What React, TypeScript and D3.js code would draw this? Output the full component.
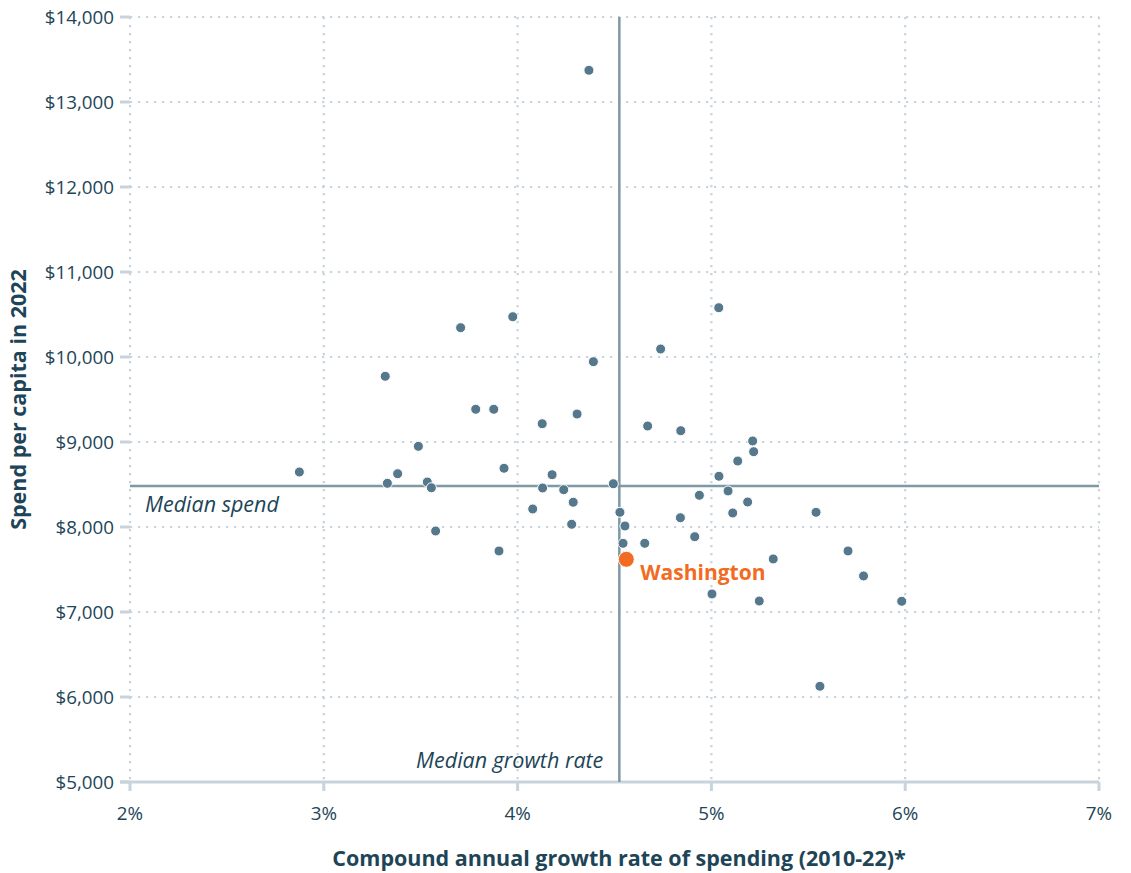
import React from 'react';
import * as d3 from 'd3';

const growthRates = [2.874, 3.317, 3.328, 3.381, 3.488, 3.534, 3.555, 3.577, 3.706, 3.784, 3.877, 3.904, 3.93, 3.975, 4.078, 4.127, 4.129, 4.178, 4.238, 4.287, 4.279, 4.307, 4.391, 4.494, 4.368, 5.038, 4.738, 4.671, 4.842, 5.213, 5.218, 5.136, 5.039, 5.086, 4.938, 5.187, 5.11, 4.528, 5.54, 4.84, 4.554, 4.914, 4.544, 4.656, 5.319, 5.705, 5.785, 5.003, 5.247, 5.982, 5.56];
const spendPerCapita = [8647, 9773, 8514, 8627, 8949, 8529, 8462, 7953, 10345, 9385, 9385, 7718, 8691, 10474, 8212, 9215, 8459, 8615, 8439, 8291, 8032, 9329, 9945, 8509, 13373, 10580, 10094, 9188, 9133, 9012, 8886, 8776, 8597, 8424, 8373, 8294, 8165, 8173, 8173, 8109, 8012, 7886, 7808, 7808, 7624, 7718, 7424, 7212, 7129, 7126, 6126];
const highlightName = 'Washington';
const highlightGrowth = 4.561;
const highlightSpend = 7620;
const medianGrowth = 4.525;
const medianSpend = 8482;
const xTicks = [2, 3, 4, 5, 6, 7];
const yTicks = [5000, 6000, 7000, 8000, 9000, 10000, 11000, 12000, 13000, 14000];

const FONT = "'Open Sans', Lato, sans-serif";
const TEXT = '#1d4557';
const GRID = '#c8d3db';
const MEDIAN = '#7e98a4';
const DOT = '#56788c';
const ORANGE = '#f26b22';

export default function App() {
  const W = 1131, H = 873;
  const left = 130, right = 1099, top = 17, bottom = 782;
  const x = d3.scaleLinear().domain([2, 7]).range([left, right]);
  const y = d3.scaleLinear().domain([5000, 14000]).range([bottom, top]);
  const fmt = d3.format('$,');
  const pts = growthRates.map((g, i) => ({ g, s: spendPerCapita[i] }));

  return (
    <svg width={W} height={H} style={{ position: 'absolute', left: 0, top: 0, background: '#fff' }} fontFamily={FONT}>
      {yTicks.slice(1).map(t => (
        <line key={'gy' + t} x1={left} x2={right} y1={y(t)} y2={y(t)} stroke={GRID} strokeWidth={2.2} strokeDasharray="2.2 5.8" />
      ))}
      {xTicks.map(t => (
        <line key={'gx' + t} x1={x(t)} x2={x(t)} y1={top} y2={bottom} stroke={GRID} strokeWidth={2.2} strokeDasharray="2.2 5.8" />
      ))}
      <line x1={left - 10} x2={right} y1={bottom} y2={bottom} stroke={GRID} strokeWidth={3} />
      {yTicks.map(t => (
        <g key={'yt' + t}>
          <line x1={left - 10} x2={left} y1={y(t)} y2={y(t)} stroke={GRID} strokeWidth={3} />
          <text x={left - 16} y={y(t)} dy="0.35em" textAnchor="end" fontSize={18.8} fill={TEXT}>{fmt(t)}</text>
        </g>
      ))}
      {xTicks.map(t => (
        <g key={'xt' + t}>
          <line x1={x(t)} x2={x(t)} y1={bottom} y2={bottom + 9} stroke={GRID} strokeWidth={3} />
          <text x={x(t)} y={bottom + 38} textAnchor="middle" fontSize={18.8} fill={TEXT}>{t + '%'}</text>
        </g>
      ))}
      <line x1={left} x2={right} y1={y(medianSpend)} y2={y(medianSpend)} stroke={MEDIAN} strokeWidth={2.5} />
      <line x1={x(medianGrowth)} x2={x(medianGrowth)} y1={top} y2={bottom} stroke={MEDIAN} strokeWidth={2.5} />
      <text x={145} y={y(medianSpend) + 26} fontSize={21.5} fontStyle="italic" fill={TEXT}>Median spend</text>
      <text x={x(medianGrowth) - 16} y={bottom - 14} textAnchor="end" fontSize={21.5} fontStyle="italic" fill={TEXT}>Median growth rate</text>
      {pts.map((p, i) => (
        <circle key={i} cx={x(p.g)} cy={y(p.s)} r={5} fill={DOT} stroke="#fff" strokeWidth={1} />
      ))}
      <circle cx={x(highlightGrowth)} cy={y(highlightSpend)} r={8} fill={ORANGE} stroke="#fff" strokeWidth={1} />
      <text x={x(highlightGrowth) + 14} y={y(highlightSpend) + 21} fontSize={21} fontWeight="bold" fill={ORANGE}>{highlightName}</text>
      <text x={619} y={866} textAnchor="middle" fontSize={21.5} fontWeight="bold" fill={TEXT}>Compound annual growth rate of spending (2010-22)*</text>
      <text transform={`translate(26, ${(top + bottom) / 2}) rotate(-90)`} textAnchor="middle" fontSize={21.5} fontWeight="bold" fill={TEXT}>Spend per capita in 2022</text>
    </svg>
  );
}
